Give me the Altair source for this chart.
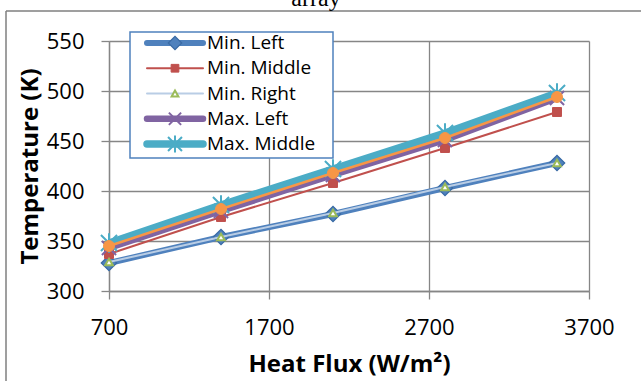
import altair as alt
import pandas as pd

# ---------------- data ----------------
heat_flux = [700, 1400, 2100, 2800, 3500]
series_names = ["Min. Left", "Min. Middle", "Min. Right", "Max. Left", "Max. Middle", "Max. Right"]
min_left = [328, 354, 377, 403, 428]
min_middle = [337, 374, 408, 443, 479]
min_right = [329, 354, 378, 404, 428]
max_left = [343, 380, 416, 451, 493]
max_middle = [348, 386, 422, 458, 498]
max_right = [345, 382, 418, 453, 494]
legend_names = series_names[:5]
x_ticks = [700, 1700, 2700, 3700]
y_ticks = [300, 350, 400, 450, 500, 550]

values = [min_left, min_middle, min_right, max_left, max_middle, max_right]
rows = []
for name, vals in zip(series_names, values):
    for xv, yv in zip(heat_flux, vals):
        rows.append({"series": name, "flux": xv, "temp": yv})
df = pd.DataFrame(rows)
legend_df = pd.DataFrame({"series": legend_names, "row": list(range(len(legend_names)))})
one_df = pd.DataFrame({"k": [0]})

X_PATH = "M-1,-1L1,1M-1,1L1,-1"
STAR_PATH = "M-1,-1L1,1M-1,1L1,-1M0,-1.2L0,1.2"

styles = {
    "Min. Left": dict(line="#4F81BD", lw=6, shape="diamond", size=240, fill="#4F81BD", stroke="#3A6BA5", sw=1.2),
    "Min. Middle": dict(line="#C0504D", lw=2, shape="square", size=80, fill="#C0504D", stroke="#C0504D", sw=1),
    "Min. Right": dict(line="#B9CDE5", lw=2, shape="triangle-up", size=60, fill="white", stroke="#9BBB59", sw=2),
    "Max. Left": dict(line="#8064A2", lw=6.5, shape=X_PATH, size=200, fill=None, stroke="#8064A2", sw=2),
    "Max. Middle": dict(line="#4BACC6", lw=7.5, shape=STAR_PATH, size=260, fill=None, stroke="#4BACC6", sw=2),
    "Max. Right": dict(line="#F79646", lw=2.5, shape="circle", size=120, fill="#F79646", stroke="#F79646", sw=1),
}

FONT = "Open Sans"
GRID = "#868686"

X = alt.X("flux:Q",
          scale=alt.Scale(domain=[700, 3700], nice=False, zero=False),
          axis=alt.Axis(values=x_ticks, title="Heat Flux (W/m²)", labelFlush=False,
                        labelPadding=18, titlePadding=14, format="d"))
Y = alt.Y("temp:Q",
          scale=alt.Scale(domain=[300, 550], nice=False, zero=False),
          axis=alt.Axis(values=y_ticks, title="Temperature (K)", labelPadding=17,
                        titlePadding=4, format="d"))

main_layers = []
for name in series_names:
    s = styles[name]
    base = alt.Chart(df).transform_filter(alt.datum.series == name)
    main_layers.append(base.mark_line(color=s["line"], strokeWidth=s["lw"]).encode(x=X, y=Y))
    pt_kwargs = dict(shape=s["shape"], size=s["size"], stroke=s["stroke"], strokeWidth=s["sw"], opacity=1)
    if s["fill"] is not None:
        pt_kwargs["fill"] = s["fill"]
        pt_kwargs["filled"] = True
        pt_kwargs["fillOpacity"] = 1
    else:
        pt_kwargs["filled"] = False
    main_layers.append(base.mark_point(**pt_kwargs).encode(x=X, y=Y))
main = alt.layer(*main_layers)

# ---------------- legend (inside plot) ----------------
YL = alt.Y("row:Q", scale=alt.Scale(domain=[0, 4], range=[2, 103], nice=False, zero=False), axis=None)
legend_layers = [
    alt.Chart(one_df).mark_rect(fill="white", stroke="#4F81BD", strokeWidth=1.5).encode(
        x=alt.value(21), x2=alt.value(224), y=alt.value(-9), y2=alt.value(117))
]
for name in legend_names:
    s = styles[name]
    base = alt.Chart(legend_df).transform_filter(alt.datum.series == name)
    legend_layers.append(base.mark_rule(color=s["line"], strokeWidth=s["lw"], strokeCap="round").encode(
        x=alt.value(38), x2=alt.value(94), y=YL))
    pt_kwargs = dict(shape=s["shape"], size=s["size"] * 0.75, stroke=s["stroke"], strokeWidth=s["sw"], opacity=1)
    if s["fill"] is not None:
        pt_kwargs["fill"] = s["fill"]
        pt_kwargs["filled"] = True
    else:
        pt_kwargs["filled"] = False
    legend_layers.append(base.mark_point(**pt_kwargs).encode(x=alt.value(66), y=YL))
legend_layers.append(alt.Chart(legend_df).mark_text(align="left", baseline="middle", font=FONT,
                                                    fontSize=19, color="black").encode(
    x=alt.value(98), y=YL, text="series:N"))
legend = alt.layer(*legend_layers)

# ---------------- frame and cut-off caption ----------------
frame = alt.layer(
    alt.Chart(one_df).mark_rule(color="#7F7F7F", strokeWidth=1.5).encode(
        x=alt.value(-103), x2=alt.value(532), y=alt.value(-30)),
    alt.Chart(one_df).mark_rule(color="#7F7F7F", strokeWidth=1.5).encode(
        x=alt.value(-103), y=alt.value(-30), y2=alt.value(345)),
    alt.Chart(pd.DataFrame({"t": ["array"]})).mark_text(font="Liberation Serif", fontSize=24,
                                                         baseline="alphabetic", align="center",
                                                         color="black").encode(
        x=alt.value(207), y=alt.value(-35), text="t:N"),
)

chart = alt.layer(main, legend, frame).resolve_scale(y="independent").properties(
    width=480, height=250,
    autosize=alt.AutoSizeParams(type="none"),
    padding={"left": 109, "top": 41, "right": 52, "bottom": 90},
    background="white",
).configure_view(stroke=None).configure_axis(
    grid=True, gridColor=GRID, gridWidth=1.3,
    domainColor=GRID, domainWidth=1.3,
    tickColor=GRID, tickWidth=1.3, tickSize=8,
    labelFont=FONT, labelFontSize=22, labelColor="black",
    titleFont=FONT, titleFontSize=24, titleFontWeight="bold", titleColor="black",
)

chart.save("out.html", embed_options={"renderer": "svg", "actions": False})
